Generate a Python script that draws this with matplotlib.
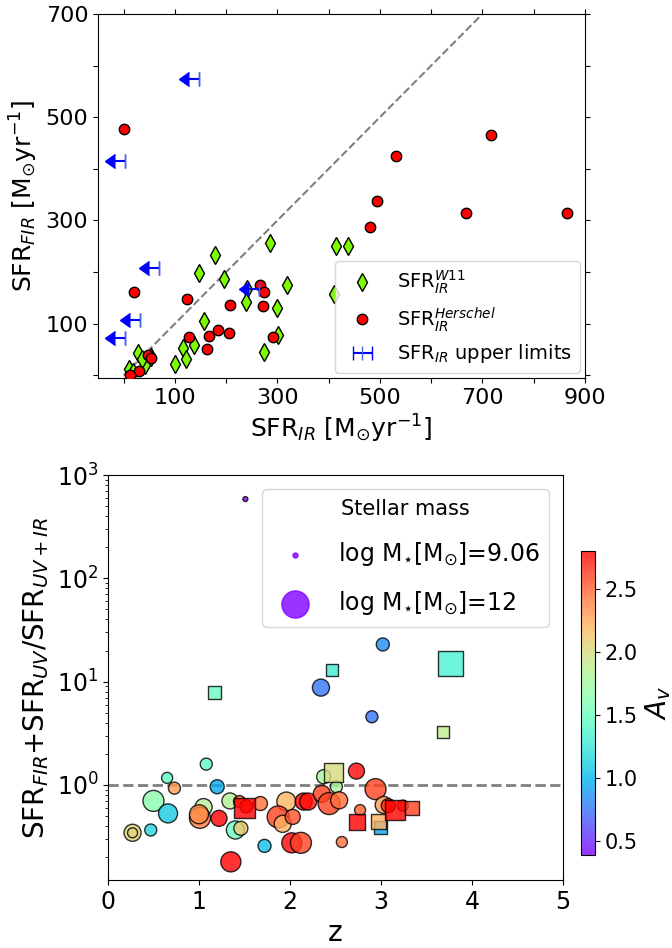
import matplotlib
matplotlib.use('Agg')
import matplotlib.pyplot as plt
import numpy as np

# ---- panel superior: SFR_FIR vs SFR_IR ----
herschel_x = [1, 21, 124, 207, 267, 273, 272, 128, 166, 184, 205, 162, 292, 47, 53, 30, 12,
              532, 717, 494, 480, 667, 865]
herschel_y = [478, 161, 147, 136, 176, 161, 134, 74, 76, 87, 83, 52, 74, 40, 33, 9, 1,
              425, 466, 338, 287, 315, 315]

w11_x = [179, 147, 195, 286, 415, 438, 411, 318, 240, 239, 300, 157, 301, 273, 137, 116,
         122, 100, 29, 54, 41, 36, 10, 19]
w11_y = [233, 198, 186, 256, 250, 250, 157, 176, 168, 143, 130, 105, 79, 45, 58, 54,
         31, 22, 44, 35, 21, 32, 12, 6]

ul_x = [148, 3, 70, 32, 3, 264]
ul_y = [574, 415, 207, 108, 73, 168]
ul_err = 20

# ---- panel inferior: cociente vs z ----
# circulos
z_c = [1.51, 3.02, 2.34, 2.90, 2.37, 2.73, 2.51, 2.94, 1.08, 0.65, 1.20, 0.73, 0.50, 0.66,
       1.05, 1.01, 1.00, 0.27, 0.27, 0.47, 1.22, 1.34, 1.40, 1.46, 1.445, 1.52, 1.675, 1.72,
       2.02, 2.12, 1.96, 1.87, 1.92, 2.03, 2.15, 2.20, 2.35, 2.43, 2.54, 2.57, 2.77, 3.03,
       3.08, 3.24, 1.35]
ratio_c = [585, 22.9, 8.75, 4.57, 1.20, 1.36, 0.96, 0.91, 1.59, 1.17, 0.96, 0.93, 0.70, 0.53,
           0.61, 0.48, 0.52, 0.344, 0.344, 0.366, 0.475, 0.70, 0.366, 0.38, 0.69, 0.62, 0.66,
           0.257, 0.275, 0.275, 0.69, 0.49, 0.42, 0.49, 0.69, 0.69, 0.82, 0.66, 0.71, 0.28,
           0.57, 0.64, 0.63, 0.63, 0.18]
mass_c = [9.06, 10.72, 11.19, 10.58, 10.85, 11.08, 10.58, 11.55, 10.58, 10.43, 10.85, 10.58,
          11.55, 11.38, 11.19, 11.55, 11.38, 11.19, 10.26, 10.58, 11.08, 11.08, 11.29, 10.85,
          10.58, 10.72, 10.85, 10.72, 11.47, 11.55, 11.38, 11.63, 11.19, 10.97, 11.19, 11.19,
          11.19, 11.63, 11.19, 10.43, 10.43, 11.19, 10.85, 10.43, 11.47]
av_c = [0.40, 0.85, 0.75, 0.75, 1.80, 2.78, 1.80, 2.60, 1.45, 1.45, 0.95, 2.30, 1.65, 1.10,
        1.85, 2.40, 2.35, 2.05, 2.05, 1.15, 2.80, 1.85, 1.50, 2.10, 2.50, 2.70, 2.45, 1.05,
        2.78, 2.60, 2.20, 2.60, 2.20, 2.55, 2.80, 2.75, 2.60, 2.60, 2.45, 2.45, 2.50, 2.30,
        2.70, 2.60, 2.80]

# cuadrados
z_s = [2.46, 3.76, 3.68, 2.48, 1.17, 1.50, 2.735, 2.99, 2.97, 3.15, 3.34]
ratio_s = [12.9, 15.0, 3.27, 1.32, 7.8, 0.60, 0.435, 0.39, 0.44, 0.57, 0.60]
mass_s = [10.58, 11.86, 10.58, 11.38, 10.72, 11.47, 11.08, 10.72, 10.97, 11.47, 10.85]
av_s = [1.30, 1.35, 1.90, 2.00, 1.50, 2.80, 2.80, 0.95, 2.20, 2.80, 2.60]

leg_masses = [9.06, 12]


def tamano(m):
    # area del marcador a partir de log M*
    return 13 * 10 ** (0.5 * (np.asarray(m) - 9.06))


fig = plt.figure(figsize=(6.72, 9.48), dpi=100)

# ----- panel superior -----
ax1 = fig.add_axes([0.1458, 0.6013, 0.7247, 0.384])
ax1.plot([0, 700], [0, 700], '--', color='gray', lw=1.5, zorder=1)
ax1.plot(w11_x, w11_y, 'd', color='lawngreen', mec='k', mew=1, ms=9,
         label=r'SFR$_{IR}^{W11}$', zorder=3)
ax1.plot(herschel_x, herschel_y, 'o', color='red', mec='k', mew=1, ms=7.5,
         label=r'SFR$_{IR}^{Herschel}$', zorder=3)
ax1.errorbar(ul_x, ul_y, xerr=ul_err, xuplims=True, fmt='|', color='blue', ms=10,
             mec='royalblue', elinewidth=1.5, capsize=5,
             label=r'SFR$_{IR}$ upper limits', zorder=4)
ax1.set_xlim(-50, 900)
ax1.set_ylim(-5, 700)
ax1.set_xticks(np.arange(0, 901, 100))
ax1.set_xticklabels(['' if v % 200 == 0 else str(v) for v in range(0, 901, 100)])
ax1.set_yticks(np.arange(0, 701, 100))
ax1.set_yticklabels(['' if v % 200 == 0 else str(v) for v in range(0, 701, 100)])
ax1.tick_params(labelsize=16, top=True, right=True)
ax1.set_xlabel(r'SFR$_{IR}$ [M$_{\odot}$yr$^{-1}$]', fontsize=18)
ax1.set_ylabel(r'SFR$_{FIR}$ [M$_{\odot}$yr$^{-1}$]', fontsize=18)
ax1.legend(loc='lower right', fontsize=14, borderaxespad=0.25, labelspacing=0.45)

# ----- panel inferior -----
ax2 = fig.add_axes([0.1607, 0.0717, 0.6771, 0.4272])
sc = ax2.scatter(z_c, ratio_c, s=tamano(mass_c), c=av_c, cmap='rainbow', vmin=0.39, vmax=2.8,
                 alpha=0.8, edgecolors='k', linewidths=1, marker='o', zorder=3)
ax2.scatter(z_s, ratio_s, s=tamano(mass_s), c=av_s, cmap='rainbow', vmin=0.39, vmax=2.8,
            alpha=0.8, edgecolors='k', linewidths=1, marker='s', zorder=3)
ax2.axhline(1, color='gray', ls='--', lw=2, zorder=2)
ax2.set_yscale('log')
ax2.set_xlim(0, 5)
ax2.set_ylim(0.12, 1000)
ax2.tick_params(labelsize=17)
ax2.set_xlabel('z', fontsize=20)
ax2.set_ylabel(r'SFR$_{FIR}$+SFR$_{UV}$/SFR$_{UV+IR}$', fontsize=20)

purple = plt.cm.rainbow(0.0)
hs = [ax2.scatter([], [], s=tamano(m), color=purple, alpha=0.8,
                  label=r'log M$_{\star}$[M$_{\odot}$]=' + ('%g' % m)) for m in leg_masses]
ax2.legend(handles=hs, loc='upper right', title='Stellar mass', fontsize=17,
           title_fontsize=15, labelspacing=0.9, borderaxespad=0.6)

cax = fig.add_axes([0.8646, 0.0981, 0.0208, 0.3207])
cb = fig.colorbar(sc, cax=cax)
cb.set_label(r'$A_v$', fontsize=20)
cb.ax.tick_params(labelsize=15)

fig.savefig('out.png', dpi=100)
